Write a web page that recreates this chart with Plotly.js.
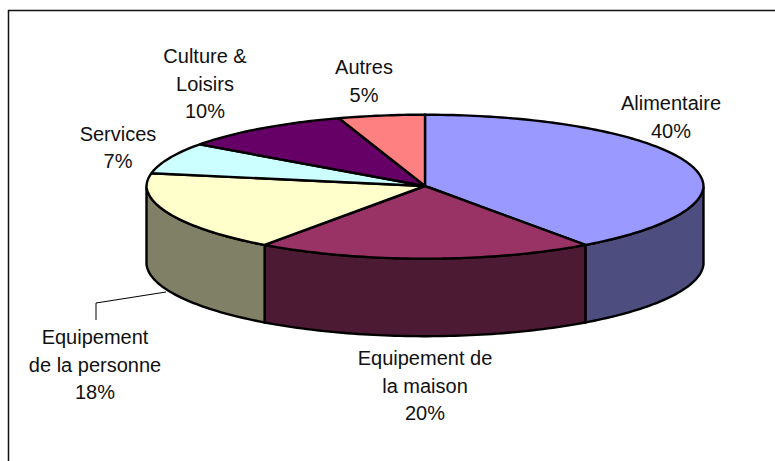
<!DOCTYPE html>
<html><head><meta charset="utf-8">
<script src="https://cdn.plot.ly/plotly-3.0.1.min.js"></script>
<style>html,body{margin:0;padding:0;background:#fff}</style></head>
<body><div id="chart" style="width:775px;height:461px"></div>
<script>
const categories = ["Alimentaire","Equipement de la maison","Equipement de la personne","Services","Culture & Loisirs","Autres"];
const values = [40,20,18,7,10,5];
const topColors = ["#9999FF","#993366","#FFFFCC","#CCFFFF","#660066","#FF8080"];
const sideColors = ["#4D4D80","#4D1A33","#808066","#668080","#330033","#804040"];
const labelLines = [["Alimentaire","40%"],["Equipement de","la maison","20%"],["Equipement","de la personne","18%"],["Services","7%"],["Culture &","Loisirs","10%"],["Autres","5%"]];
const labelX = [671,425,95,118,205,364];
const labelY = [105,360,339,135.5,58,69];

const cx=425, cy=186.7, hubY=186, rx=278.5, ry=72, depth=77.5, lineH=27.6;
const pt=(t,d=0)=>[cx+rx*Math.sin(t)*(1+0.025*Math.min(0,Math.cos(t))), cy-ry*Math.cos(t)+d];
function arc(a,b,d){const n=Math.max(2,Math.ceil(Math.abs(b-a)/0.02));const o=[];for(let i=0;i<=n;i++)o.push(pt(a+(b-a)*i/n,d));return o;}
const total=values.reduce((s,v)=>s+v,0);
let acc=0; const traces=[], tops=[];
const poly=(pts,fill,w=2.4)=>({type:'scatter',mode:'lines',x:pts.map(p=>p[0]),y:pts.map(p=>p[1]),fill:'toself',fillcolor:fill,line:{color:'#000',width:w,simplify:false},hoverinfo:'skip',showlegend:false});
values.forEach((v,i)=>{
  const a=acc/total*2*Math.PI; acc+=v; const b=acc/total*2*Math.PI;
  const s=Math.max(a,Math.PI/2), e=Math.min(b,3*Math.PI/2);
  if(e>s){ traces.push(poly([...arc(s,e,0),...arc(e,s,depth),pt(s,0)],sideColors[i])); }
  tops.push(poly([[cx,hubY],...arc(a,b,0),[cx,hubY]],topColors[i]));
});
traces.push(...tops);
// frame: only the top and left edges fall inside the picture
traces.unshift({type:'scatter',mode:'lines',x:[8.5,8.5,775],y:[461,10.5,10.5],line:{color:'#111',width:1.5},hoverinfo:'skip',showlegend:false});
// leader line for the Equipement de la personne label
traces.push({type:'scatter',mode:'lines',x:[96,96,166],y:[320,303,292],line:{color:'#000',width:1},hoverinfo:'skip',showlegend:false});
const tx=[],ty=[],tt=[];
labelLines.forEach((ls,i)=>ls.forEach((s,j)=>{tx.push(labelX[i]);ty.push(labelY[i]+j*lineH);tt.push(s);}));
traces.push({type:'scatter',mode:'text',x:tx,y:ty,text:tt,textposition:'middle center',textfont:{family:'"Liberation Sans",Arial,sans-serif',size:20,color:'#111'},hoverinfo:'skip',showlegend:false});
Plotly.newPlot('chart',traces,{
  width:775,height:461,margin:{l:0,r:0,t:0,b:0},paper_bgcolor:'#fff',plot_bgcolor:'#fff',showlegend:false,
  xaxis:{range:[0,775],visible:false,fixedrange:true},
  yaxis:{range:[461,0],visible:false,fixedrange:true}
},{displayModeBar:false,staticPlot:true});
</script></body></html>
